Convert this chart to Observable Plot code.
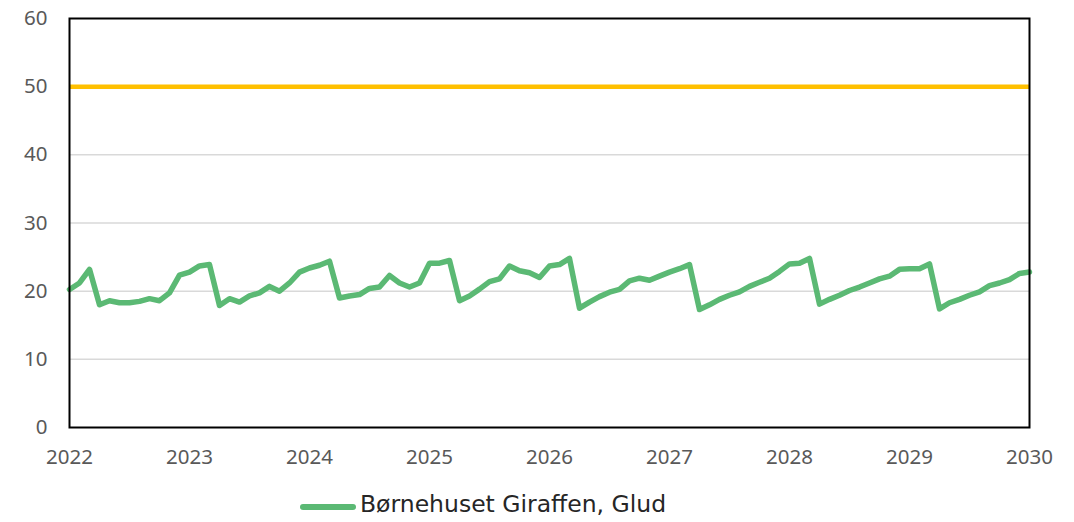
<!DOCTYPE html>
<html>
<head>
<meta charset="utf-8">
<script src="https://cdn.jsdelivr.net/npm/d3@7"></script>
<script src="https://cdn.jsdelivr.net/npm/@observablehq/plot@0.6"></script>
<style>
  html, body { margin: 0; padding: 0; background: #fff; }
  #chart svg { display: block; }
  #legend { position: relative; height: 44px; font-family: "DejaVu Sans", sans-serif; font-size: 23.5px; color: #262626; }
  #legend .swatch { position: absolute; left: 300px; top: 26px; width: 56px; height: 6px; border-radius: 3px; background: #5bb974; }
  #legend .label { position: absolute; left: 360px; top: 12px; white-space: nowrap; }
</style>
</head>
<body>
<div id="chart"></div>
<div id="legend"><span class="swatch"></span><span class="label"></span></div>
<script>
const seriesName = "Børnehuset Giraffen, Glud";
const startYear = 2022;
// Monthly values, Jan 2022 .. Jan 2030
const values = [
  20.25, 21.2, 23.2, 18.0, 18.6, 18.3, 18.3, 18.5, 18.9, 18.6, 19.75, 22.35,
  22.8, 23.7, 23.9, 17.9, 18.9, 18.4, 19.3, 19.75, 20.7, 20.0, 21.2, 22.8,
  23.4, 23.8, 24.4, 19.0, 19.3, 19.5, 20.4, 20.6, 22.3, 21.2, 20.6, 21.2,
  24.1, 24.1, 24.5, 18.6, 19.3, 20.3, 21.4, 21.8, 23.7, 23.0, 22.7, 22.0,
  23.7, 23.9, 24.8, 17.5, 18.4, 19.2, 19.85, 20.25, 21.5, 21.9, 21.6, 22.2,
  22.8, 23.3, 23.9, 17.3, 18.0, 18.8, 19.4, 19.9, 20.7, 21.3, 21.9, 22.9,
  24.0, 24.1, 24.8, 18.1, 18.8, 19.4, 20.1, 20.6, 21.2, 21.8, 22.2, 23.2,
  23.3, 23.3, 24.0, 17.4, 18.3, 18.8, 19.4, 19.9, 20.8, 21.2, 21.7, 22.6,
  22.8
];
const target = 50;
const xTicks = [2022, 2023, 2024, 2025, 2026, 2027, 2028, 2029, 2030];
const yTicks = [0, 10, 20, 30, 40, 50, 60];

const data = values.map((v, i) => ({x: startYear + i / 12, y: v}));

const chart = Plot.plot({
  width: 1074,
  height: 478,
  marginLeft: 69,
  marginRight: 45,
  marginTop: 18,
  marginBottom: 51,
  style: {fontFamily: "'Noto Sans', sans-serif", fontSize: "20px", color: "#595959", background: "#fff"},
  x: {domain: [2022, 2030], label: null},
  y: {domain: [0, 60], label: null},
  marks: [
    Plot.gridY(yTicks.filter(t => t > 0 && t < 60), {stroke: "#d9d9d9", strokeOpacity: 1, strokeWidth: 1.5}),
    Plot.axisY(yTicks, {tickSize: 0, tickPadding: 22, fill: "#595959", fontSize: 20.5}),
    Plot.axisX(xTicks, {tickSize: 0, tickPadding: 22, tickFormat: d3.format("d"), fill: "#595959", fontSize: 20.5}),
    Plot.ruleY([target], {stroke: "#ffc000", strokeWidth: 4.5}),
    Plot.line(data, {x: "x", y: "y", stroke: "#5bb974", strokeWidth: 5.5, strokeLinejoin: "round"}),
    Plot.frame({stroke: "#000", strokeWidth: 2})
  ]
});
document.getElementById("chart").appendChild(chart);
document.querySelector("#legend .label").textContent = seriesName;
</script>
</body>
</html>
